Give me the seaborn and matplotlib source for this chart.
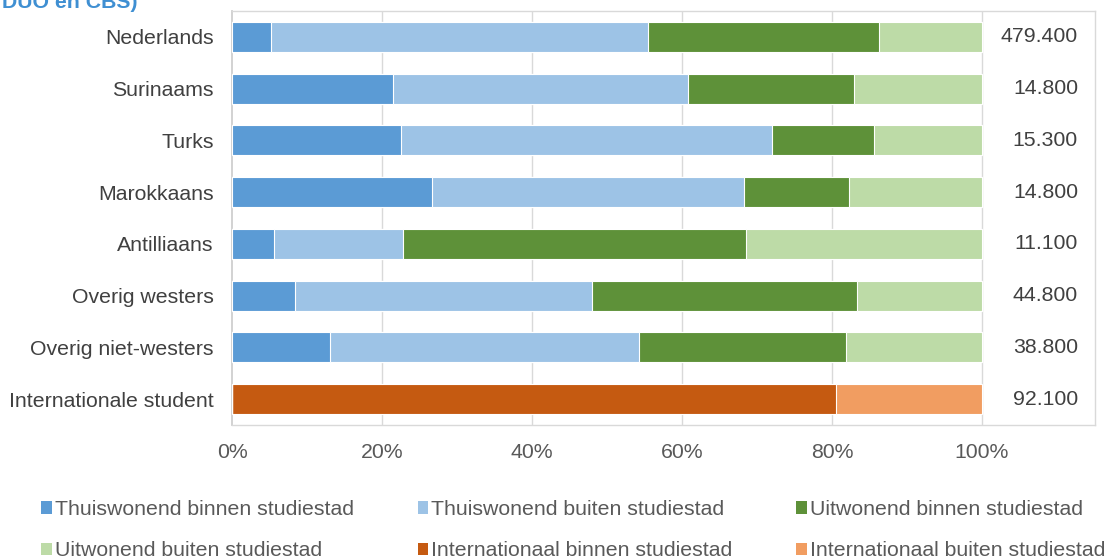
import numpy as np
import pandas as pd
import seaborn as sns
import matplotlib.pyplot as plt
from matplotlib.patches import Patch

# data (percent of each group)
groups = ["Nederlands", "Surinaams", "Turks", "Marokkaans", "Antilliaans",
          "Overig westers", "Overig niet-westers", "Internationale student"]
thuis_binnen = [5.2, 21.5, 22.5, 26.7, 5.6, 8.4, 13.1, 0.0]
thuis_buiten = [50.3, 39.3, 49.5, 41.6, 17.2, 39.6, 41.2, 0.0]
uit_binnen = [30.8, 22.1, 13.6, 14.0, 45.7, 35.3, 27.6, 0.0]
uit_buiten = [13.7, 17.1, 14.4, 17.7, 31.5, 16.7, 18.1, 0.0]
int_binnen = [0.0, 0.0, 0.0, 0.0, 0.0, 0.0, 0.0, 80.5]
int_buiten = [0.0, 0.0, 0.0, 0.0, 0.0, 0.0, 0.0, 19.5]
counts = [479400, 14800, 15300, 14800, 11100, 44800, 38800, 92100]

series_names = ["Thuiswonend binnen studiestad", "Thuiswonend buiten studiestad",
                "Uitwonend binnen studiestad", "Uitwonend buiten studiestad",
                "Internationaal binnen studiestad", "Internationaal buiten studiestad"]
colors = ["#5B9BD5", "#9DC3E6", "#5E9139", "#BDDBA7", "#C55A11", "#F19D61"]

sns.set_style("white")
plt.rcParams["font.family"] = ["Liberation Sans", "DejaVu Sans"]
fs = 15.3

df = pd.DataFrame({"groep": groups})
vals = [thuis_binnen, thuis_buiten, uit_binnen, uit_buiten, int_binnen, int_buiten]
cum = np.cumsum(np.array(vals), axis=0)

fig = plt.figure(figsize=(11.1, 5.6), dpi=100)
ax = fig.add_axes([232 / 1110, 1 - 425 / 560, (1095 - 232) / 1110, 414 / 560])

# stacked bars: draw cumulative totals from the last series backwards
for i in range(len(series_names) - 1, -1, -1):
    df["cum"] = cum[i]
    sns.barplot(data=df, x="cum", y="groep", color=colors[i], width=0.58,
                edgecolor="white", linewidth=0.8, saturation=1, ax=ax, zorder=3)

ax.set_xlim(0, (1095 - 232) / 7.5)
ax.set_ylim(7.5, -0.5)
ax.set_xticks([0, 20, 40, 60, 80, 100])
ax.set_xticklabels(["0%", "20%", "40%", "60%", "80%", "100%"])
ax.set_xlabel("")
ax.set_ylabel("")
ax.tick_params(axis="both", length=0, labelsize=fs, colors="#404040", pad=13)
ax.tick_params(axis="x", colors="#595959")
for x in [20, 40, 60, 80, 100]:
    ax.axvline(x, color="#D9D9D9", lw=1.0, zorder=1)
for s in ax.spines.values():
    s.set_color("#D9D9D9")
    s.set_linewidth(1.0)
ax.spines["left"].set_color("#CFCFCF")
ax.spines["left"].set_linewidth(1.3)

for i, c in enumerate(counts):
    ax.text(112.8, i, f"{c:,}".replace(",", "."), ha="right", va="center",
            fontsize=fs, color="#404040")

# title, cut off at the top as in the source
fig.text(0.002, 1 - 8 / 560, "DUO en CBS)", fontsize=fs, fontweight="bold",
         color="#3F8FD2", ha="left", va="baseline")

# legend filled row by row (matplotlib fills columns first)
order = [0, 3, 1, 4, 2, 5]
handles = [Patch(facecolor=colors[k], edgecolor="none") for k in order]
labels = [series_names[k] for k in order]
fig.legend(handles, labels, loc="upper left", bbox_to_anchor=(41 / 1110, 1 - 500 / 560),
           ncol=3, frameon=False, fontsize=fs, labelcolor="#595959",
           handlelength=0.5, handleheight=0.5, handletextpad=0.15,
           columnspacing=3.0, labelspacing=1.05, borderaxespad=0, borderpad=0)

fig.savefig("out.png", dpi=100)
